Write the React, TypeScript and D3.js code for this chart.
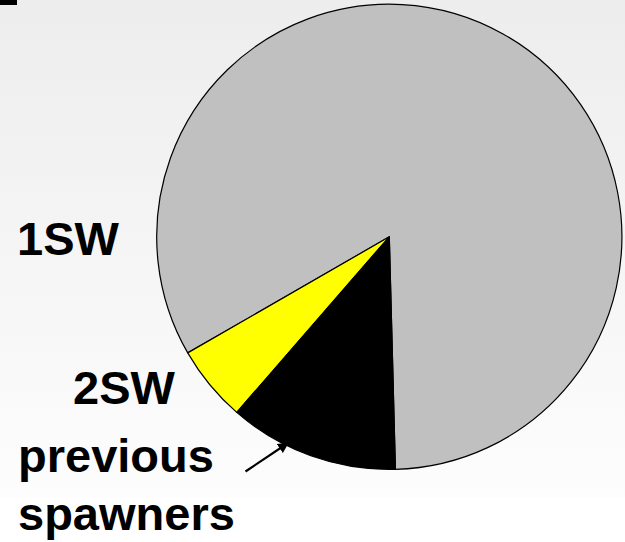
import React from "react";
import * as d3 from "d3";

// Sea-age composition of returning salmon (percent of run)
const categories = ["1SW", "2SW", "previous spawners"];
const shares = [82.9, 5.3, 11.8];
const sliceColors = ["#c0c0c0", "#ffff00", "#000000"];

const W = 625;
const H = 542;
const cx = 389.3;
const cy = 236.8;
const radius = 232.6;
const toRad = (deg: number) => (deg * Math.PI) / 180;

export default function App() {
  // slices run counter-clockwise from just right of 6 o'clock
  const pie = d3
    .pie<number>()
    .sort(null)
    .value((d) => d)
    .startAngle(toRad(178.5))
    .endAngle(toRad(178.5 - 360));
  const arcs = pie(shares);
  const arcGen = d3.arc<d3.PieArcDatum<number>>().innerRadius(0).outerRadius(radius);

  const font = "Arial, 'Liberation Sans', Helvetica, sans-serif";
  const labelStyle = { fontFamily: font, fontWeight: 700, fontSize: 47 } as const;

  return (
    <svg
      width={W}
      height={H}
      style={{ position: "absolute", left: 0, top: 0, display: "block" }}
    >
      <defs>
        <linearGradient id="bg" x1="0" y1="0" x2="0" y2="1">
          <stop offset="0" stopColor="#ededed" />
          <stop offset="1" stopColor="#fdfdfd" />
        </linearGradient>
        <marker
          id="head"
          viewBox="0 0 10 10"
          refX="9"
          refY="5"
          markerWidth="5"
          markerHeight="5"
          orient="auto"
        >
          <path d="M0,0 L10,5 L0,10 z" fill="#000" />
        </marker>
      </defs>
      <rect x={0} y={0} width={W} height={H} fill="#ffffff" />
      <rect x={0} y={0} width={W} height={497} fill="url(#bg)" />
      <rect x={0} y={0} width={17} height={5} fill="#000" />

      <g transform={`translate(${cx},${cy})`}>
        {arcs.map((a, i) => (
          <path
            key={categories[i]}
            d={arcGen(a) || ""}
            fill={sliceColors[i]}
            stroke="#000"
            strokeWidth={1.2}
            strokeLinejoin="round"
          />
        ))}
      </g>

      <text x={17} y={255} style={labelStyle}>
        {categories[0]}
      </text>
      <text x={73} y={404} style={labelStyle}>
        {categories[1]}
      </text>
      <text x={18} y={471.5} style={labelStyle}>
        previous
      </text>
      <text x={18} y={530} style={labelStyle}>
        spawners
      </text>

      <line
        x1={245.5}
        y1={471.5}
        x2={288}
        y2={443}
        stroke="#000"
        strokeWidth={2.2}
        markerEnd="url(#head)"
      />
    </svg>
  );
}
